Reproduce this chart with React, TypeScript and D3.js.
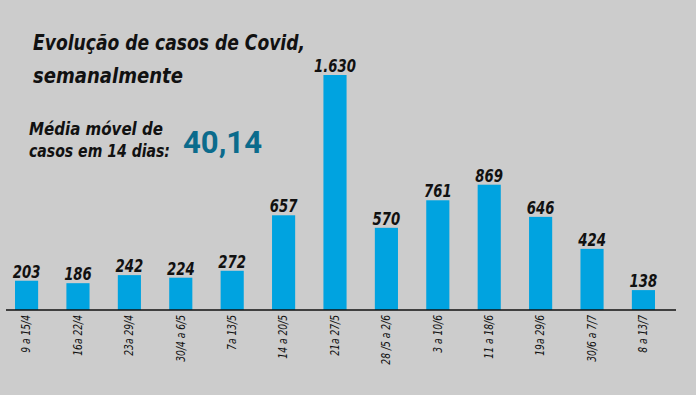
import React from 'react'
import * as d3 from 'd3'

const weeks = [
  '9 a 15/4',
  '16a 22/4',
  '23a 29/4',
  '30/4 a 6/5',
  '7a 13/5',
  '14 a 20/5',
  '21a 27/5',
  '28 /5 a 2/6',
  '3 a 10/6',
  '11 a 18/6',
  '19a 29/6',
  '30/6 a 7/7',
  '8 a 13/7',
]
const cases = [203, 186, 242, 224, 272, 657, 1630, 570, 761, 869, 646, 424, 138]
const valueLabels = ['203', '186', '242', '224', '272', '657', '1.630', '570', '761', '869', '646', '424', '138']

const width = 696
const height = 395
const baseline = 310
const narrow = '"DejaVu Sans Condensed", "DejaVu Sans", sans-serif'

const App = () => {
  const x = d3.scaleBand().domain(weeks).range([15, 655]).paddingInner(0.55).paddingOuter(0)
  const y = d3.scaleLinear().domain([0, 1630]).range([baseline, 75])

  return (
    <svg width={width} height={height} style={{ position: 'absolute', left: 0, top: 0 }}>
      <rect width={width} height={height} fill="#cccccc" />

      {/* titles, squeezed to the condensed widths of the original */}
      <g fontFamily={narrow} fontWeight="bold" fontStyle="italic" fill="#111">
        <text x={33} y={50} fontSize={21} textLength={272} lengthAdjust="spacingAndGlyphs">Evolução de casos de Covid,</text>
        <text x={33} y={83} fontSize={21} textLength={150} lengthAdjust="spacingAndGlyphs">semanalmente</text>
        <text x={29} y={135} fontSize={18} textLength={134} lengthAdjust="spacingAndGlyphs">Média móvel de</text>
        <text x={29} y={157} fontSize={18} textLength={141} lengthAdjust="spacingAndGlyphs">casos em 14 dias:</text>
      </g>
      <text x={183} y={153} fontFamily="Roboto, sans-serif" fontWeight="bold" fontSize={32} fill="#0b6b8c" textLength={79} lengthAdjust="spacingAndGlyphs">
        40,14
      </text>

      {/* bars */}
      {cases.map((v, i) => (
        <rect key={weeks[i]} x={x(weeks[i])} y={y(v)} width={x.bandwidth()} height={baseline - y(v)} fill="#00a3e0" />
      ))}

      {/* value labels */}
      {cases.map((v, i) => (
        <text
          key={'v' + i}
          transform={`translate(${x(weeks[i])! + x.bandwidth() / 2},${y(v) - 3}) scale(0.82,1)`}
          textAnchor="middle"
          fontFamily={narrow}
          fontWeight="bold"
          fontStyle="italic"
          fontSize={18}
          fill="#111"
        >
          {valueLabels[i]}
        </text>
      ))}

      {/* axis */}
      <line x1={6} x2={676} y1={baseline} y2={baseline} stroke="#111" strokeWidth={1.5} />
      {weeks.map((w) => {
        const cx = x(w)! + x.bandwidth() / 2
        return (
          <text
            key={'l' + w}
            transform={`translate(${cx},${baseline + 5}) rotate(-90) scale(0.85,1)`}
            textAnchor="end"
            dominantBaseline="central"
            fontFamily={narrow}
            fontStyle="italic"
            fontSize={12}
            fill="#111"
          >
            {w}
          </text>
        )
      })}
    </svg>
  )
}

export default App
